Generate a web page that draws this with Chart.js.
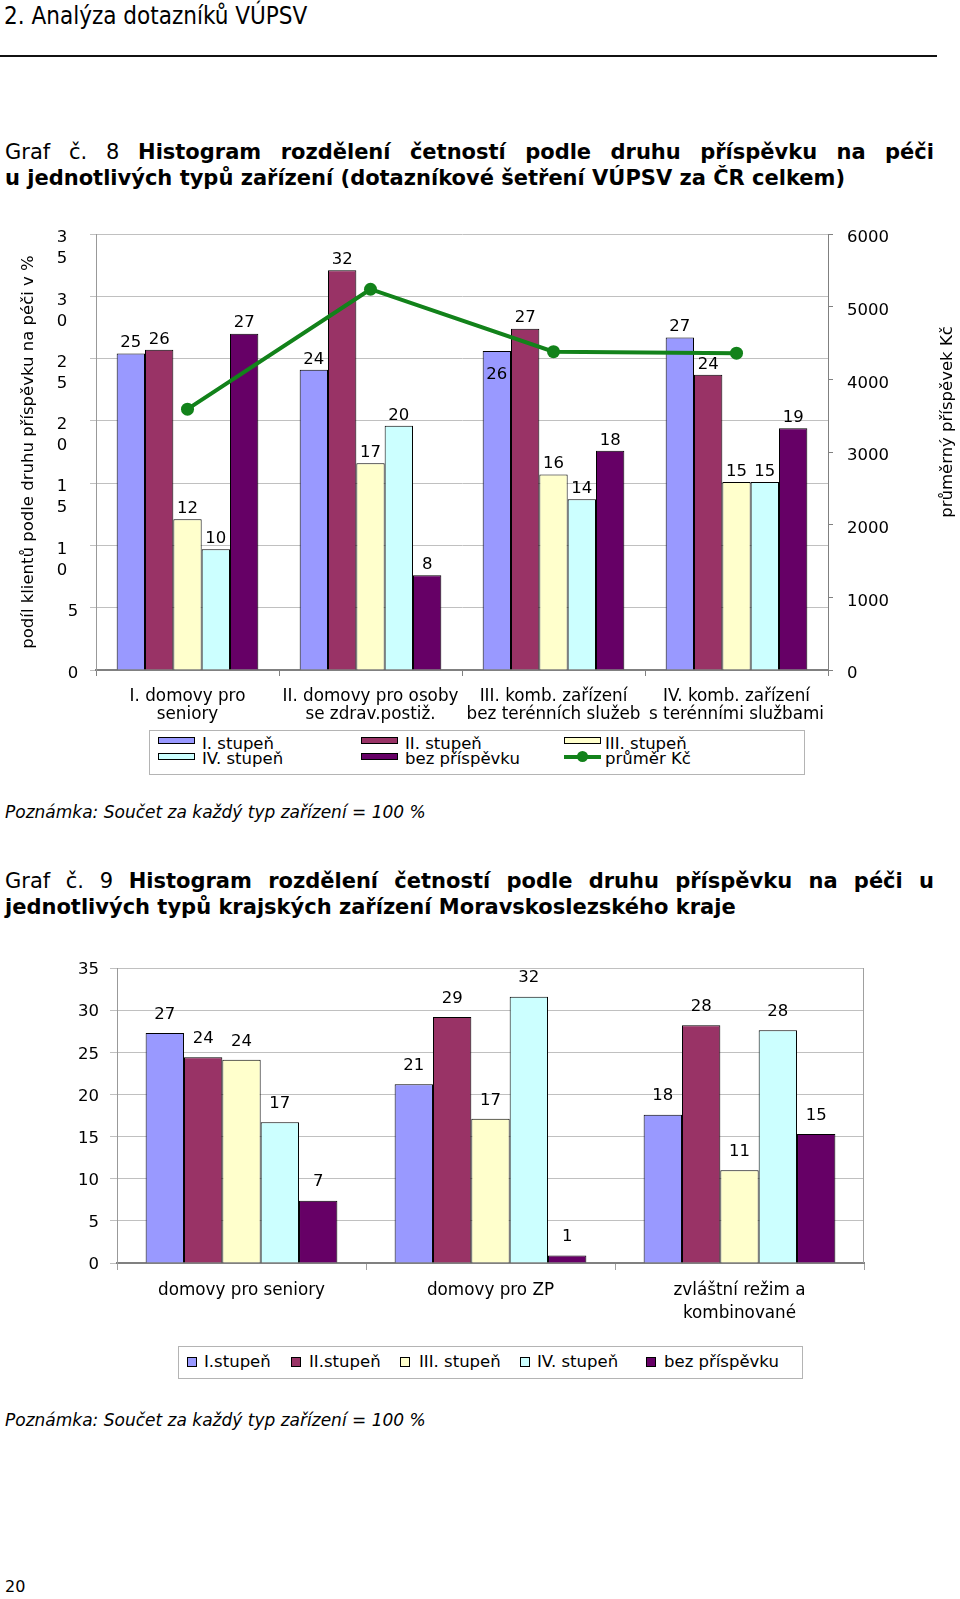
<!DOCTYPE html>
<html><head><meta charset="utf-8">
<script src="https://cdn.jsdelivr.net/npm/chart.js@4.4.1/dist/chart.umd.min.js"></script>
<style>
html,body{margin:0;padding:0;background:#fff;}
body{width:960px;height:1599px;position:relative;overflow:hidden;font-family:'DejaVu Sans',sans-serif;color:#000;}
.abs{position:absolute;white-space:nowrap;}
.ttl{position:absolute;left:5px;width:929px;font-size:21px;line-height:26px;white-space:nowrap;}
.ttl .j{text-align:justify;text-align-last:justify;white-space:normal;}
.note{font-style:italic;font-size:17px;line-height:17px;}
.lgbox{position:absolute;border:1px solid #b4b4b4;box-sizing:border-box;background:#fff;}
.sw{position:absolute;border:1px solid #000;box-sizing:border-box;}
.lt{position:absolute;white-space:nowrap;font-size:16.5px;line-height:16px;}
canvas{position:absolute;left:0;}
</style></head><body>

<div class="abs" style="left:4px;top:4px;font-family:'DejaVu Sans Condensed','DejaVu Sans',sans-serif;font-stretch:condensed;font-size:24px;line-height:24px;">2. Analýza dotazníků VÚPSV</div>
<div class="abs" style="left:0;top:55px;width:937px;height:2px;background:#111;"></div>

<div class="ttl" style="top:139px;">
  <div class="j">Graf č. 8 <b>Histogram rozdělení četností podle druhu příspěvku na péči</b></div>
  <div><b>u jednotlivých typů zařízení (dotazníkové šetření VÚPSV za ČR celkem)</b></div>
</div>

<canvas id="c1" width="960" height="530" style="top:200px;"></canvas>
<div id="lg1"></div>

<div class="abs note" style="left:5px;top:804px;">Poznámka: Součet za každý typ zařízení = 100 %</div>

<div class="ttl" style="top:868px;">
  <div class="j">Graf č. 9 <b>Histogram rozdělení četností podle druhu příspěvku na péči u</b></div>
  <div><b>jednotlivých typů krajských zařízení Moravskoslezského kraje</b></div>
</div>

<canvas id="c2" width="960" height="400" style="top:930px;"></canvas>
<div id="lg2"></div>

<div class="abs note" style="left:5px;top:1412px;">Poznámka: Součet za každý typ zařízení = 100 %</div>
<div class="abs" style="left:5px;top:1579px;font-size:16px;line-height:16px;">20</div>

<script>
// ---------- DATA: chart 1 (Graf č. 8) ----------
const categories1 = [
  ['I. domovy pro', 'seniory'],
  ['II. domovy pro osoby', 'se zdrav.postiž.'],
  ['III. komb. zařízení', 'bez terénních služeb'],
  ['IV. komb. zařízení', 's terénními službami']
];
const seriesNames1 = ['I. stupeň', 'II. stupeň', 'III. stupeň', 'IV. stupeň', 'bez příspěvku'];
const stupenI_1   = [25.4, 24.1, 25.6, 26.7];
const stupenII_1  = [25.7, 32.1, 27.4, 23.7];
const stupenIII_1 = [12.1, 16.6, 15.7, 15.1];
const stupenIV_1  = [9.7, 19.6, 13.7, 15.1];
const bezPrisp_1  = [27.0, 7.6, 17.6, 19.4];
const lineName1   = 'průměr Kč';
const prumerKc_1  = [3590, 5240, 4380, 4360];
const leftTicks1  = ['0', '5', '10', '15', '20', '25', '30', '35'];
const rightTicks1 = ['0', '1000', '2000', '3000', '4000', '5000', '6000'];
const leftTitle1  = 'podíl klientů podle druhu příspěvku na péči v %';
const rightTitle1 = 'průměrný příspěvek Kč';

// ---------- DATA: chart 2 (Graf č. 9) ----------
const categories2 = ['domovy pro seniory', 'domovy pro ZP', ['zvláštní režim a', 'kombinované']];
const seriesNames2 = ['I.stupeň', 'II.stupeň', 'III. stupeň', 'IV. stupeň', 'bez příspěvku'];
const stupenI_2   = [27.3, 21.2, 17.6];
const stupenII_2  = [24.4, 29.2, 28.2];
const stupenIII_2 = [24.1, 17.1, 11.0];
const stupenIV_2  = [16.7, 31.6, 27.6];
const bezPrisp_2  = [7.4, 0.9, 15.3];
const yTicks2     = ['0', '5', '10', '15', '20', '25', '30', '35'];

// ---------- styles ----------
const barColors = ['#9999FF', '#993366', '#FFFFCC', '#CCFFFF', '#660066'];
const lineColor = '#12821a';
const gridColor = '#c0c0c0';
const axisColor = '#808080';
const FONT = "'DejaVu Sans', sans-serif";

Chart.defaults.font.family = FONT;
Chart.defaults.font.size = 16.5;
Chart.defaults.color = '#000';

function makeBarLabels(cfg) {
  return {
    id: 'barLabels',
    afterDatasetsDraw(chart) {
      const ctx = chart.ctx;
      ctx.save();
      ctx.font = '16.5px ' + FONT;
      ctx.fillStyle = '#000';
      ctx.textAlign = 'center';
      ctx.textBaseline = 'middle';
      chart.data.datasets.forEach((ds, di) => {
        if (ds.type === 'line') return;
        const meta = chart.getDatasetMeta(di);
        meta.data.forEach((bar, i) => {
          const inside = (cfg.inside || []).some(p => p[0] === di && p[1] === i);
          const y = inside ? bar.y + cfg.insideOffset : bar.y - cfg.offset;
          ctx.fillText(String(Math.round(ds.data[i])), bar.x, y);
        });
      });
      ctx.restore();
    }
  };
}

// stacked-digit left tick labels, right tick labels and reversed right title for chart 1
const chart1Text = {
  id: 'chart1Text',
  afterDraw(chart) {
    const ctx = chart.ctx;
    const s = chart.scales.y, s2 = chart.scales.y2;
    ctx.save();
    ctx.font = '16.5px ' + FONT;
    ctx.fillStyle = '#000';
    ctx.textAlign = 'center';
    ctx.textBaseline = 'middle';
    leftTicks1.forEach(lab => {
      const py = s.getPixelForValue(Number(lab)) + 4;
      const chars = lab.split('');
      if (chars.length === 1) {
        ctx.fillText(lab, 73, py);
      } else {
        chars.forEach((ch, k) => ctx.fillText(ch, 62, py + k * 21));
      }
    });
    ctx.textAlign = 'left';
    rightTicks1.forEach(lab => {
      ctx.fillText(lab, s2.left + 19, s2.getPixelForValue(Number(lab)) + 4);
    });
    ctx.textAlign = 'center';
    ctx.translate(948, 222);
    ctx.rotate(-Math.PI / 2);
    ctx.fillText(rightTitle1, 0, 0);
    ctx.restore();
  }
};

const rightBorder = {
  id: 'rightBorder',
  afterDraw(chart) {
    const a = chart.chartArea, ctx = chart.ctx;
    ctx.save();
    ctx.strokeStyle = '#a0a0a0';
    ctx.lineWidth = 1;
    ctx.beginPath();
    ctx.moveTo(Math.round(a.right) - 0.5, a.top);
    ctx.lineTo(Math.round(a.right) - 0.5, a.bottom);
    ctx.stroke();
    ctx.restore();
  }
};

function barDs(label, data, color) {
  return { type: 'bar', label, data, backgroundColor: color, borderColor: '#000', borderWidth: 1,
           yAxisID: 'y', order: 1, categoryPercentage: 0.77, barPercentage: 1 };
}

// ---------- chart 1 ----------
const series1 = [stupenI_1, stupenII_1, stupenIII_1, stupenIV_1, bezPrisp_1];
const ds1 = series1.map((d, i) => {
  const o = barDs(seriesNames1[i], d, barColors[i]);
  o.categoryPercentage = 0.774;
  return o;
});
ds1.push({
  type: 'line', label: lineName1, data: prumerKc_1, yAxisID: 'y2', order: 0,
  borderColor: lineColor, borderWidth: 4, backgroundColor: lineColor,
  pointRadius: 6.5, pointBackgroundColor: lineColor, pointBorderWidth: 0, tension: 0, fill: false
});

new Chart(document.getElementById('c1'), {
  type: 'bar',
  data: { labels: categories1, datasets: ds1 },
  options: {
    responsive: false, animation: false, devicePixelRatio: 1,
    layout: { padding: { top: 34, left: 0, right: 0, bottom: 0 } },
    plugins: { legend: { display: false }, tooltip: { enabled: false } },
    scales: {
      x: {
        offset: true,
        grid: { display: true, drawOnChartArea: false, drawTicks: true, tickLength: 6, offset: true, color: axisColor, tickColor: axisColor },
        border: { color: axisColor, width: 2 },
        ticks: { font: { size: 16.8, lineHeight: '18px' }, padding: 12, maxRotation: 0, minRotation: 0, autoSkip: false },
        afterFit: s => { s.height = 60; }
      },
      y: {
        position: 'left', min: 0, max: 35,
        ticks: { display: false, stepSize: 5 },
        grid: { color: gridColor, tickLength: 6, tickColor: gridColor },
        border: { color: '#999', width: 1 },
        title: { display: true, text: leftTitle1, font: { size: 16.5 }, padding: { top: 18.4, bottom: 0 } },
        afterFit: s => { s.width = 96; }
      },
      y2: {
        position: 'right', min: 0, max: 6000,
        ticks: { display: false, stepSize: 1000 },
        grid: { drawOnChartArea: false, tickLength: 5, tickColor: axisColor },
        border: { color: axisColor, width: 1 },
        afterFit: s => { s.width = 132; }
      }
    }
  },
  plugins: [makeBarLabels({ offset: 10.5, inside: [[0, 2]], insideOffset: 24 }), chart1Text]
});

// ---------- chart 2 ----------
const series2 = [stupenI_2, stupenII_2, stupenIII_2, stupenIV_2, bezPrisp_2];
const ds2 = series2.map((d, i) => barDs(seriesNames2[i], d, barColors[i]));

const chart2Ticks = {
  id: 'chart2Ticks',
  afterDraw(chart) {
    const ctx = chart.ctx, s = chart.scales.y;
    ctx.save();
    ctx.font = '16.5px ' + FONT;
    ctx.fillStyle = '#000';
    ctx.textAlign = 'right';
    ctx.textBaseline = 'middle';
    yTicks2.forEach(lab => ctx.fillText(lab, s.right - 18, s.getPixelForValue(Number(lab)) + 2));
    ctx.restore();
  }
};

new Chart(document.getElementById('c2'), {
  type: 'bar',
  data: { labels: categories2, datasets: ds2 },
  options: {
    responsive: false, animation: false, devicePixelRatio: 1,
    layout: { padding: { top: 38, left: 0, right: 96, bottom: 0 } },
    plugins: { legend: { display: false }, tooltip: { enabled: false } },
    scales: {
      x: {
        offset: true,
        grid: { display: true, drawOnChartArea: false, drawTicks: true, tickLength: 7, offset: true, color: axisColor, tickColor: '#a0a0a0' },
        border: { color: axisColor, width: 2 },
        ticks: { font: { size: 16.8, lineHeight: '23px' }, padding: 9, maxRotation: 0, minRotation: 0, autoSkip: false },
        afterFit: s => { s.height = 67; }
      },
      y: {
        min: 0, max: 35,
        ticks: { display: false, stepSize: 5 },
        grid: { color: gridColor, tickLength: 7, tickColor: gridColor },
        border: { color: '#999', width: 1 },
        afterFit: s => { s.width = 117; }
      }
    }
  },
  plugins: [makeBarLabels({ offset: 18.5 }), rightBorder, chart2Ticks]
});

// ---------- HTML legends built from the same series ----------
function el(cls, style, text) {
  const d = document.createElement('div');
  d.className = cls;
  Object.assign(d.style, style);
  if (text) d.textContent = text;
  document.body.appendChild(d);
  return d;
}

// legend 1: 3 columns x 2 rows
el('lgbox', { left: '149px', top: '730px', width: '656px', height: '45px' });
const lg1Items = seriesNames1.map((n, i) => ({ name: n, color: barColors[i] }));
lg1Items.push({ name: lineName1, line: true });
const col1Sw = [158, 361, 564], col1Tx = [202, 405, 605];
const row1Sw = [737, 753], row1Tx = [735.6, 750.6];
lg1Items.forEach((it, k) => {
  const r = Math.floor(k / 3), c = k % 3;
  if (it.line) {
    el('abs', { left: col1Sw[c] + 'px', top: (row1Sw[r] + 1.5) + 'px', width: '37px', height: '4px', background: lineColor });
    el('abs', { left: (col1Sw[c] + 13) + 'px', top: (row1Sw[r] - 2) + 'px', width: '11px', height: '11px', borderRadius: '50%', background: lineColor });
  } else {
    el('sw', { left: col1Sw[c] + 'px', top: row1Sw[r] + 'px', width: '37px', height: '7px', background: it.color });
  }
  el('lt', { left: col1Tx[c] + 'px', top: row1Tx[r] + 'px' }, it.name);
});

// legend 2: single row
el('lgbox', { left: '178px', top: '1346px', width: '625px', height: '33px' });
const sw2 = [187, 291, 400, 520, 646], tx2 = [204, 309, 419, 537, 664];
seriesNames2.forEach((n, i) => {
  el('sw', { left: sw2[i] + 'px', top: '1357px', width: '10px', height: '10px', background: barColors[i] });
  el('lt', { left: tx2[i] + 'px', top: '1354.3px' }, n);
});
</script>
</body></html>
